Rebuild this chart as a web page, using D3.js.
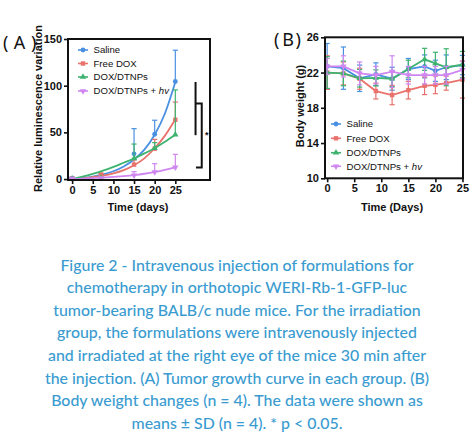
<!DOCTYPE html>
<html><head><meta charset="utf-8">
<script src="https://cdn.jsdelivr.net/npm/d3@7"></script>
<style>
html,body{margin:0;padding:0;background:#fff;}
svg{display:block;}
</style></head>
<body><svg id="c" width="474" height="442"></svg>
<script>
// ---------- Data ----------
const seriesNames = ["Saline", "Free DOX", "DOX/DTNPs", "DOX/DTNPs + hv"];
const seriesColors = ["#4a90e2", "#e9726c", "#3db36f", "#cf86f0"];
const seriesShapes = ["circle", "square", "triangle", "triangleDown"];

// Panel A: relative luminescence
const daysA = [0, 7, 15, 20, 25];
const salineA = [1, 2, 27, 48, 104.5];
const salineAErr = [1, 1, 27, 15, 33.5];
const freeDoxA = [0.5, 5, 15.5, 32.5, 63.5];
const freeDoxAErr = [0.5, 1, 5, 10, 19];
const dtnpA = [0.5, 1, 22, 33, 47.5];
const dtnpAErr = [0.5, 1, 15.5, 6, 48];
const hvA = [0.5, 1, 4, 7.5, 12.5];
const hvAErr = [0.5, 0.5, 4, 9, 14];

// Fitted curves
const fitDays = [0, 2.5, 5, 7.5, 10, 12.5, 15, 17.5, 20, 22.5, 25];
const salineFit = [0, 1.1, 2.7, 5, 8.4, 13.5, 21, 31.5, 47.5, 70.5, 104];
const freeDoxFit = [0, 0.85, 2.1, 3.7, 6.1, 9.6, 14.8, 22.2, 33, 46.5, 64];
const dtnpFit = [0, 2.5, 5.5, 9, 13, 17.5, 22, 27.5, 33, 40, 47.5];
const hvFit = [0, 0.4, 1, 1.6, 2.3, 3.2, 4.3, 5.7, 7.5, 9.8, 12.5];

const yTicksA = [0, 50, 100, 150];
const xTicksA = [0, 5, 10, 15, 20, 25];

// Panel B: body weight
const daysB = [0, 3, 6, 9, 12, 15, 18, 20, 22, 25];
const salineB = [22.7, 22.5, 21.35, 21.8, 21.3, 22.4, 22.7, 22.2, 22.6, 22.85];
const salineBErr = [2.6, 2.4, 1.5, 1.3, 1.3, 1.2, 1.3, 1.2, 1.4, 1.1];
const freeDoxB = [22.0, 21.9, 21.3, 19.9, 19.45, 20.0, 20.5, 20.6, 20.8, 21.2];
const freeDoxBErr = [1.9, 1.3, 1.2, 0.9, 1.1, 1.0, 1.0, 1.0, 0.8, 2.1];
const dtnpB = [22.0, 21.9, 21.35, 21.4, 21.3, 22.4, 23.5, 23.05, 22.6, 22.9];
const dtnpBErr = [1.8, 1.4, 1.0, 0.9, 0.9, 1.0, 1.25, 1.25, 2.1, 1.5];
const hvB = [22.7, 22.7, 21.9, 21.7, 22.1, 21.7, 21.7, 21.7, 21.7, 22.3];
const hvBErr = [0.9, 1.2, 1.3, 1.0, 1.8, 1.0, 1.0, 1.0, 1.0, 1.0];

const yTicksB = [10, 14, 18, 22, 26];
const xTicksB = [0, 5, 10, 15, 20, 25];

const captionLines = [
  "Figure 2 - Intravenous injection of formulations for",
  "chemotherapy in orthotopic WERI-Rb-1-GFP-luc",
  "tumor-bearing BALB/c nude mice. For the irradiation",
  "group, the formulations were intravenously injected",
  "and irradiated at the right eye of the mice 30 min after",
  "the injection. (A) Tumor growth curve in each group. (B)",
  "Body weight changes (n = 4). The data were shown as",
  "means \u00b1 SD (n = 4). * p < 0.05."
];

// ---------- Drawing ----------
const svg = d3.select("#c");
const FONT = "'Liberation Sans', Arial, sans-serif";

function marker(g, shape, x, y, color, s) {
  if (shape === "circle") g.append("circle").attr("cx", x).attr("cy", y).attr("r", s * 0.55).attr("fill", color);
  else if (shape === "square") g.append("rect").attr("x", x - s / 2).attr("y", y - s / 2).attr("width", s).attr("height", s).attr("fill", color);
  else {
    const sym = d3.symbol().type(d3.symbolTriangle).size(s * s * 0.9);
    g.append("path").attr("d", sym()).attr("fill", color)
      .attr("transform", `translate(${x},${y})` + (shape === "triangleDown" ? " rotate(180)" : ""));
  }
}

function panelLabel(letter, pos) {
  const st = t => t.style("font-family", "'Noto Sans', sans-serif").style("font-size", "18px")
    .style("font-weight", "400").attr("fill", "#111");
  st(svg.append("text").attr("x", pos[0]).attr("y", pos[3]).text("("));
  st(svg.append("text").attr("x", pos[1]).attr("y", pos[3]).attr("text-anchor", "middle").text(letter));
  st(svg.append("text").attr("x", pos[2]).attr("y", pos[3]).text(")"));
}

function panel(opts) {
  const g = svg.append("g");
  const x = d3.scaleLinear().domain(opts.xDom).range(opts.xRange);
  const y = d3.scaleLinear().domain(opts.yDom).range(opts.yRange);
  const [x0, x1] = opts.xRange, [yb, yt] = opts.yRange;

  // series
  opts.series.forEach((s, i) => {
    const col = seriesColors[i];
    const sg = g.append("g");
    if (s.fit) {
      sg.append("path").datum(fitDays.map((d, k) => [d, s.fit[k]]))
        .attr("d", d3.line().x(d => x(d[0])).y(d => y(d[1])).curve(d3.curveMonotoneX))
        .attr("fill", "none").attr("stroke", col).attr("stroke-width", 1.8);
    } else {
      sg.append("path").datum(opts.days.map((d, k) => [d, s.v[k]]))
        .attr("d", d3.line().x(d => x(d[0])).y(d => y(d[1])))
        .attr("fill", "none").attr("stroke", col).attr("stroke-width", 1.8);
    }
    opts.days.forEach((d, k) => {
      const cx = x(d), v = s.v[k], e = s.e[k];
      const top = y(v + e), bot = opts.upperOnly ? y(v) : y(v - e);
      sg.append("line").attr("x1", cx).attr("x2", cx).attr("y1", top).attr("y2", bot)
        .attr("stroke", col).attr("stroke-width", 1.2);
      sg.append("line").attr("x1", cx - 2.6).attr("x2", cx + 2.6).attr("y1", top).attr("y2", top)
        .attr("stroke", col).attr("stroke-width", 1.2);
      if (!opts.upperOnly) sg.append("line").attr("x1", cx - 2.6).attr("x2", cx + 2.6).attr("y1", bot).attr("y2", bot)
        .attr("stroke", col).attr("stroke-width", 1.2);
      marker(sg, seriesShapes[i], cx, y(v), col, 4.4);
    });
  });

  // frame
  g.append("rect").attr("x", x0).attr("y", yt).attr("width", x1 - x0).attr("height", yb - yt)
    .attr("fill", "none").attr("stroke", "#111").attr("stroke-width", 2);

  // axes
  const ya = g.append("g").attr("transform", `translate(${x0},0)`)
    .call(d3.axisLeft(y).tickValues(opts.yTicks).tickSize(4).tickPadding(2));
  const xa = g.append("g").attr("transform", `translate(0,${yb})`)
    .call(d3.axisBottom(x).tickValues(opts.xTicks).tickSize(4).tickPadding(2));
  [ya, xa].forEach(a => {
    a.select(".domain").remove();
    a.selectAll("line").attr("stroke", "#111").attr("stroke-width", 1.6);
    a.selectAll("text").attr("fill", "#111").style("font-family", FONT)
      .style("font-size", "11px").style("font-weight", "bold");
  });

  // titles
  g.append("text").attr("x", opts.xTitlePos[0]).attr("y", opts.xTitlePos[1]).attr("text-anchor", "middle")
    .style("font-family", FONT).style("font-size", "11px").style("font-weight", "bold").attr("fill", "#111")
    .text(opts.xTitle);
  g.append("text").attr("transform", `translate(${opts.yTitlePos[0]},${opts.yTitlePos[1]}) rotate(-90)`)
    .attr("text-anchor", "middle")
    .style("font-family", FONT).style("font-size", "11px").style("font-weight", "bold").attr("fill", "#111")
    .text(opts.yTitle);

  // legend
  seriesNames.forEach((n, i) => {
    const ly = opts.legendY[i];
    const lx = opts.legendX;
    g.append("line").attr("x1", lx).attr("x2", lx + 10).attr("y1", ly).attr("y2", ly)
      .attr("stroke", seriesColors[i]).attr("stroke-width", 1.6);
    marker(g, seriesShapes[i], lx + 5, ly, seriesColors[i], 4.4);
    const t = g.append("text").attr("x", lx + 15.5).attr("y", ly + 3.4)
      .style("font-family", FONT).style("font-size", "9.6px").attr("fill", "#111");
    if (n.endsWith("hv")) {
      t.append("tspan").text(n.slice(0, -2));
      t.append("tspan").style("font-style", "italic").text("hv");
    } else t.text(n);
  });
  return {g, x, y};
}

const A = panel({
  xDom: [-1, 33.4], xRange: [68, 210], yDom: [-1, 150], yRange: [180, 39],
  days: daysA, upperOnly: true,
  series: [
    {v: salineA, e: salineAErr, fit: salineFit},
    {v: freeDoxA, e: freeDoxAErr, fit: freeDoxFit},
    {v: dtnpA, e: dtnpAErr, fit: dtnpFit},
    {v: hvA, e: hvAErr, fit: hvFit}
  ],
  yTicks: yTicksA, xTicks: xTicksA,
  xTitle: "Time (days)", xTitlePos: [138, 211],
  yTitle: "Relative luminescence variation", yTitlePos: [42, 108.5],
  legendX: 78, legendY: [50, 63.5, 77, 91]
});
panelLabel("A", [3, 19.5, 31, 48.5]);

// significance brackets (panel A)
{
  const {g, x, y} = A;
  const bx1 = x(29.9), bx2 = x(31.4);
  g.append("line").attr("x1", bx1).attr("x2", bx1).attr("y1", y(104)).attr("y2", y(47))
    .attr("stroke", "#111").attr("stroke-width", 2);
  g.append("path").attr("d", `M${x(30)},${y(81)}H${bx2}V${y(12.5)}H${x(30)}`)
    .attr("fill", "none").attr("stroke", "#111").attr("stroke-width", 2);
  g.append("text").attr("x", bx2 + 3.2).attr("y", y(47) + 3).style("font-family", FONT)
    .style("font-size", "9px").style("font-weight", "bold").attr("fill", "#111").text("*");
}

panel({
  xDom: [-0.4, 25.1], xRange: [325, 463], yDom: [10, 26], yRange: [178.3, 37.3],
  days: daysB, upperOnly: false,
  series: [
    {v: salineB, e: salineBErr},
    {v: freeDoxB, e: freeDoxBErr},
    {v: dtnpB, e: dtnpBErr},
    {v: hvB, e: hvBErr}
  ],
  yTicks: yTicksB, xTicks: xTicksB,
  xTitle: "Time (Days)", xTitlePos: [392, 211],
  yTitle: "Body weight (g)", yTitlePos: [304, 106],
  legendX: 331, legendY: [124, 138.3, 152.7, 166.3]
});
panelLabel("B", [274, 288, 295.5, 46]);

// caption
const cap = svg.append("g");
captionLines.forEach((l, i) => {
  cap.append("text").attr("x", 237).attr("y", 270.5 + i * 22.6).attr("text-anchor", "middle")
    .style("font-family", "Lato, 'Open Sans', sans-serif").style("font-size", "15.9px")
    .style("font-weight", "500").attr("fill", "#3a9bd0").text(l);
});
</script></body></html>
